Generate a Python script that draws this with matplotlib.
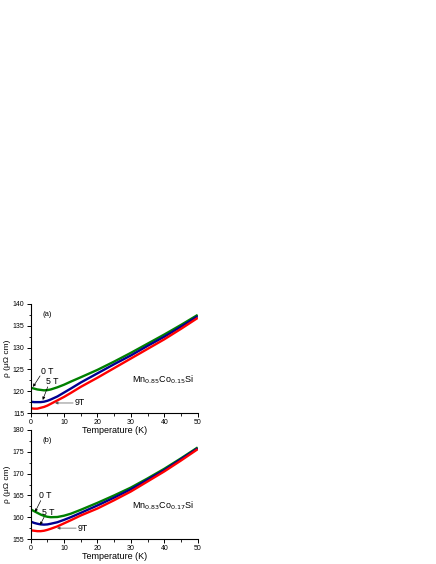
import numpy as np
import matplotlib.pyplot as plt
from matplotlib.ticker import MultipleLocator

plt.rcParams['font.family'] = ['Liberation Sans', 'DejaVu Sans']

T = [0, 1, 2, 3, 4, 5, 6, 8, 10, 12, 15, 20, 25, 30, 35, 40, 45, 50]

# panel (a): Mn0.85Co0.15Si
a_0T = [120.8, 120.6, 120.4, 120.3, 120.2, 120.25, 120.4, 120.9, 121.5, 122.2,
        123.2, 124.9, 126.8, 128.8, 130.9, 133.0, 135.2, 137.5]
a_5T = [117.6, 117.5, 117.5, 117.5, 117.6, 117.8, 118.1, 118.8, 119.7, 120.6,
        122.0, 124.1, 126.2, 128.2, 130.4, 132.5, 134.8, 137.2]
a_9T = [116.1, 116.0, 116.0, 116.2, 116.4, 116.7, 117.1, 117.9, 118.7, 119.6,
        121.0, 123.1, 125.3, 127.5, 129.7, 131.9, 134.3, 136.8]

# panel (b): Mn0.83Co0.17Si
b_0T = [161.8, 161.4, 161.0, 160.6, 160.3, 160.1, 160.0, 160.05, 160.35, 160.8,
        161.7, 163.3, 165.0, 166.8, 168.9, 171.1, 173.5, 176.0]
b_5T = [159.0, 158.7, 158.5, 158.35, 158.3, 158.35, 158.5, 158.85, 159.4, 160.0,
        161.0, 162.7, 164.5, 166.4, 168.6, 170.8, 173.3, 175.8]
b_9T = [157.0, 156.9, 156.8, 156.8, 156.9, 157.1, 157.35, 157.9, 158.6, 159.3,
        160.4, 162.0, 163.9, 165.9, 168.2, 170.5, 173.0, 175.6]

colors = ['#008000', '#000090', '#ff0000']

fig = plt.figure(figsize=(4.36, 5.64), dpi=100)
axA = fig.add_axes([0.0704, 0.2677, 0.383, 0.1933])
axB = fig.add_axes([0.0704, 0.0443, 0.383, 0.1933])
axB.patch.set_alpha(0)
axA.set_zorder(2)
axA.patch.set_alpha(0)


def setup(ax, ylim, ystep, tag, formula):
    ax.set_xlim(0, 50)
    ax.set_ylim(*ylim)
    ax.spines['top'].set_visible(False)
    ax.spines['right'].set_visible(False)
    for s in ['left', 'bottom']:
        ax.spines[s].set_linewidth(0.8)
    ax.xaxis.set_major_locator(MultipleLocator(10))
    ax.xaxis.set_minor_locator(MultipleLocator(5))
    ax.yaxis.set_major_locator(MultipleLocator(ystep))
    ax.yaxis.set_minor_locator(MultipleLocator(ystep / 2))
    ax.tick_params(which='major', length=3, width=0.7, labelsize=5, pad=1.5)
    ax.tick_params(which='minor', length=1.8, width=0.6)
    ax.set_xlabel('Temperature (K)', fontsize=6.5)
    ax.xaxis.set_label_coords(0.5, -0.115)
    ax.set_ylabel('ρ (μΩ cm)', fontsize=6)
    ax.yaxis.set_label_coords(-0.118, 0.5)
    ax.text(3.5, ylim[1] - 0.06 * (ylim[1] - ylim[0]), tag, fontsize=5.5,
            va='top')
    ax.text(30.3, ylim[0] + 0.28 * (ylim[1] - ylim[0]), formula, fontsize=6.5)


setup(axA, (115, 140), 5, '(a)', r'Mn$_{0.85}$Co$_{0.15}$Si')
setup(axB, (155, 180), 5, '(b)', r'Mn$_{0.83}$Co$_{0.17}$Si')

for ax, series in [(axA, [a_0T, a_5T, a_9T]), (axB, [b_0T, b_5T, b_9T])]:
    for y, c in zip(series, colors):
        ax.plot(T, y, color=c, lw=1.7, solid_capstyle='butt')

arr = dict(arrowstyle='-|>', color='black', lw=0.5, mutation_scale=4,
           shrinkA=0, shrinkB=0)
arr9 = dict(arrowstyle='-|>', color='#555555', lw=0.5, mutation_scale=4,
            shrinkA=0, shrinkB=0)

axA.annotate('', xy=(0.7, 121.0), xytext=(2.8, 123.5), arrowprops=arr)
axA.text(4.9, 124.6, '0 T', fontsize=6.3, ha='center', va='center')
axA.annotate('', xy=(3.6, 118.0), xytext=(5.1, 121.0), arrowprops=arr)
axA.text(6.6, 122.3, '5 T', fontsize=6.3, ha='center', va='center')
axA.annotate('', xy=(7.3, 117.3), xytext=(12.7, 117.3), arrowprops=arr9)
axA.text(14.6, 117.3, '9T', fontsize=6.3, ha='center', va='center')

axB.annotate('', xy=(1.3, 161.2), xytext=(3.0, 163.8), arrowprops=arr)
axB.text(4.3, 164.9, '0 T', fontsize=6.3, ha='center', va='center')
axB.annotate('', xy=(2.8, 158.2), xytext=(4.0, 160.0), arrowprops=arr)
axB.text(5.3, 161.0, '5 T', fontsize=6.3, ha='center', va='center')
axB.annotate('', xy=(7.9, 157.5), xytext=(13.6, 157.5), arrowprops=arr9)
axB.text(15.5, 157.5, '9T', fontsize=6.3, ha='center', va='center')

fig.savefig('out.png', dpi=100)
